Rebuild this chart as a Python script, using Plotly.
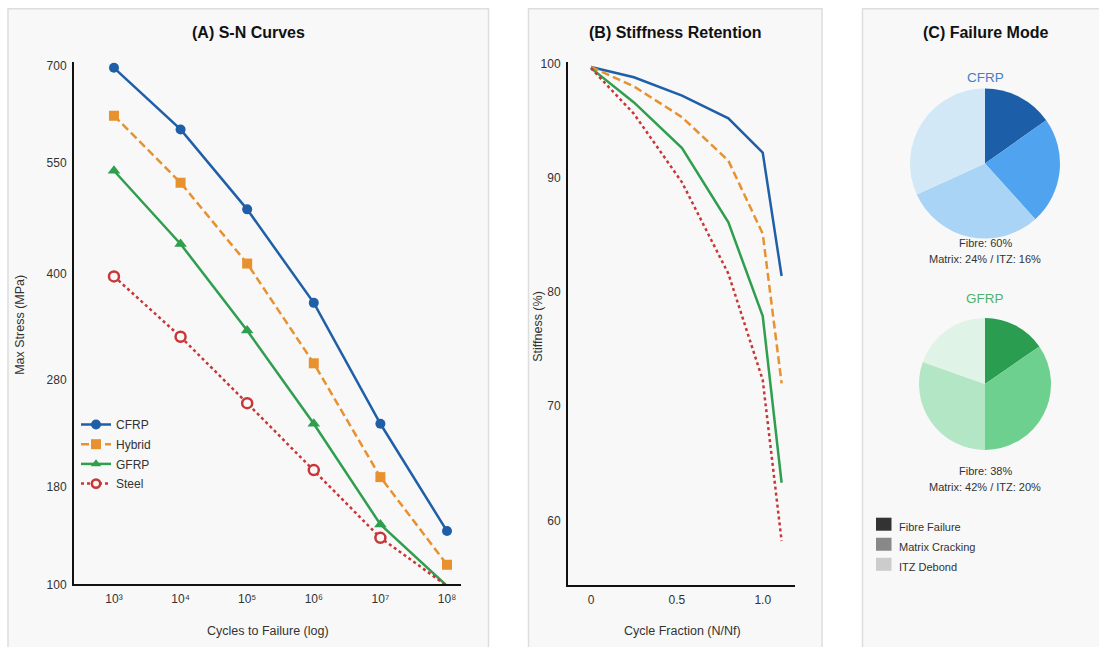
import numpy as np
import plotly.graph_objects as go

W, H = 1099, 647
# the photographed page maps page-y to picture-y as  y_pic = Y0 + YS * y_page
Y0, YS = 5.8, 0.978

# ---------------- data ----------------
cycles = [1e3, 1e4, 1e5, 1e6, 1e7, 1e8]
cycle_tick_text = ["10³", "10⁴", "10⁵", "10⁶", "10⁷", "10⁸"]
stress_ticks = [100, 180, 280, 400, 550, 700]
stress_floor = 108
stress_ceiling = 705

sn_cfrp = [696, 599, 484, 365, 236, 145]
sn_hybrid = [620, 521, 413, 297, 188, 121]
sn_gfrp = [538, 438, 333, 236, 150, 107]
sn_steel = [397, 326, 256, 194, 140, 107]

cycle_fraction = [0, 0.25, 0.53, 0.8, 1.0, 1.11]
stiff_cfrp = [99.7, 98.8, 97.2, 95.2, 92.2, 81.4]
stiff_hybrid = [99.7, 98.0, 95.3, 91.5, 85.1, 72.0]
stiff_gfrp = [99.6, 96.6, 92.6, 86.1, 77.9, 63.3]
stiff_steel = [99.6, 95.6, 89.6, 81.6, 72.3, 58.2]
frac_ticks = [0, 0.5, 1.0]
frac_tick_text = ["0", "0.5", "1.0"]
stiff_ticks = [60, 70, 80, 90, 100]

pie_labels = ["Fibre Failure", "Matrix Cracking", "ITZ Debond", "Other"]
pie_cfrp = [15.2, 23.1, 29.9, 31.8]
pie_gfrp = [15.4, 34.6, 30.4, 19.6]
cfrp_note = ["Fibre: 60%", "Matrix: 24% / ITZ: 16%"]
gfrp_note = ["Fibre: 38%", "Matrix: 42% / ITZ: 20%"]
mode_legend = ["Fibre Failure", "Matrix Cracking", "ITZ Debond"]

series_names = ["CFRP", "Hybrid", "GFRP", "Steel"]

# ---------------- styles ----------------
colors = {"CFRP": "#1f5fa8", "Hybrid": "#e8912f", "GFRP": "#2f9e4e", "Steel": "#c93636"}
dashes = {"CFRP": "solid", "Hybrid": "8px,4px", "GFRP": "solid", "Steel": "3px,3px"}
symbols = {"CFRP": "circle", "Hybrid": "square", "GFRP": "triangle-up", "Steel": "circle"}
msize = {"CFRP": 10, "Hybrid": 10, "GFRP": 11, "Steel": 10}
cfrp_pie_colors = ["#1c5ea8", "#4fa3ef", "#a9d4f5", "#d2e8f7"]
gfrp_pie_colors = ["#2a9d50", "#6dd08f", "#b3e6c4", "#dff3e6"]
mode_colors = ["#333333", "#888888", "#cccccc"]
BG = "#f8f8f8"
FONT = "Liberation Sans, Arial, sans-serif"


def px(x):
    return x / W


def py(y):
    y_page = (y - Y0) / YS
    return 1 - y_page / H


fig = go.Figure()

sn_data = dict(zip(series_names, [sn_cfrp, sn_hybrid, sn_gfrp, sn_steel]))
for name in series_names:
    vals = sn_data[name]
    sizes = [msize[name] if v > stress_floor else 0 for v in vals]
    if name == "Steel":
        marker = dict(symbol="circle", size=sizes, color=BG, opacity=1,
                      line=dict(color=colors[name], width=2.5))
    else:
        marker = dict(symbol=symbols[name], size=sizes, color=colors[name], opacity=1,
                      line=dict(width=0))
    fig.add_trace(go.Scatter(
        x=cycles, y=np.sqrt(vals), mode="lines+markers", name=name, legendgroup=name,
        line=dict(color=colors[name], width=2.5, dash=dashes[name]),
        marker=marker, xaxis="x", yaxis="y", cliponaxis=True,
        customdata=vals,
        hovertemplate="%{x:.0e} cycles: %{customdata} MPa<extra>" + name + "</extra>",
    ))

stiff_data = dict(zip(series_names, [stiff_cfrp, stiff_hybrid, stiff_gfrp, stiff_steel]))
for name in series_names:
    fig.add_trace(go.Scatter(
        x=cycle_fraction, y=stiff_data[name], mode="lines", name=name,
        line=dict(color=colors[name], width=2.5, dash=dashes[name]),
        xaxis="x2", yaxis="y2", showlegend=False,
    ))

fig.add_trace(go.Pie(
    labels=pie_labels, values=pie_cfrp, sort=False, direction="clockwise", rotation=0,
    marker=dict(colors=cfrp_pie_colors, line=dict(width=0)), textinfo="none",
    domain=dict(x=[px(910), px(1060)], y=[py(238), py(88)]), showlegend=False, name="CFRP",
))
fig.add_trace(go.Pie(
    labels=pie_labels, values=pie_gfrp, sort=False, direction="clockwise", rotation=0,
    marker=dict(colors=gfrp_pie_colors, line=dict(width=0)), textinfo="none",
    domain=dict(x=[px(919), px(1051)], y=[py(449), py(317)]), showlegend=False, name="GFRP",
))

shapes = []
for x0, x1 in [(8, 488.5), (528.5, 822), (862.5, 1120)]:
    shapes.append(dict(type="rect", xref="paper", yref="paper", x0=px(x0), x1=px(x1),
                       y0=-0.1, y1=py(8.5), fillcolor=BG, line=dict(color="#dddddd", width=1.5),
                       layer="below"))
for i, c in enumerate(mode_colors):
    yc = 523 + 20 * i
    shapes.append(dict(type="rect", xref="paper", yref="paper", x0=px(876), x1=px(891.5),
                       y0=py(yc + 6.5), y1=py(yc - 6.5), fillcolor=c, line=dict(width=0)))

ann = []


def text(x, y, s, size, color="#333", bold=False, angle=0, xanchor="center"):
    ann.append(dict(x=px(x), y=py(y), xref="paper", yref="paper", text=("<b>%s</b>" % s) if bold else s,
                    showarrow=False, xanchor=xanchor, yanchor="middle", textangle=angle,
                    font=dict(family=FONT, size=size, color=color)))


text(248, 32, "(A) S-N Curves", 16, "#111", bold=True)
text(675, 32, "(B) Stiffness Retention", 16, "#111", bold=True)
text(985, 32, "(C) Failure Mode", 16, "#111", bold=True)
text(268, 630, "Cycles to Failure (log)", 12.5)
text(20, 324, "Max Stress (MPa)", 12.5, angle=-90)
text(682, 630, "Cycle Fraction (N/Nf)", 12.5)
text(538, 326, "Stiffness (%)", 12.5, angle=-90)
text(985, 77, "CFRP", 13.5, "#3f7fc6")
text(985, 298, "GFRP", 13.5, "#52b06d")
text(985, 242, cfrp_note[0], 11)
text(985, 258, cfrp_note[1], 11)
text(985, 470, gfrp_note[0], 11)
text(985, 486, gfrp_note[1], 11)
for i, s in enumerate(mode_legend):
    text(897, 526 + 20 * i, s, 11, xanchor="left")

axis_common = dict(showline=True, linecolor="#111", linewidth=2, showgrid=False, zeroline=False,
                   ticks="", tickfont=dict(family=FONT, size=12, color="#333"))

fig.update_layout(
    width=W, height=H, margin=dict(l=0, r=0, t=0, b=0),
    paper_bgcolor="white", plot_bgcolor="rgba(0,0,0,0)",
    font=dict(family=FONT, color="#333"),
    xaxis=dict(domain=[px(74), px(461)], type="log", range=[2.4, 8.21], anchor="y",
               tickmode="array", tickvals=cycles, ticktext=cycle_tick_text,
               ticklabelstandoff=2, **axis_common),
    yaxis=dict(domain=[py(583), py(62)], range=[np.sqrt(stress_floor), np.sqrt(stress_ceiling)],
               anchor="x", tickmode="array",
               tickvals=list(np.sqrt(np.clip(stress_ticks, stress_floor, None))),
               ticktext=[str(v) for v in stress_ticks], ticklabelstandoff=3, **axis_common),
    xaxis2=dict(domain=[px(568), px(795)], range=[-0.134, 1.188], anchor="y2",
                tickmode="array", tickvals=frac_ticks, ticktext=frac_tick_text,
                ticklabelstandoff=2, **axis_common),
    yaxis2=dict(domain=[py(584), py(62)], range=[54.32, 100.11], anchor="x2",
                tickmode="array", tickvals=stiff_ticks, ticklabelstandoff=3, **axis_common),
    legend=dict(x=px(76), y=py(409), xanchor="left", yanchor="top", bgcolor="rgba(0,0,0,0)",
                font=dict(family=FONT, size=12, color="#333"), tracegroupgap=0.7),
    shapes=shapes, annotations=ann,
)

reset_page = ("document.documentElement.style.margin='0';document.body.style.margin='0';"
              "document.body.style.padding='0';document.documentElement.style.overflow='hidden';"
              "document.body.style.overflow='hidden';")

fig.write_html("out.html", post_script=reset_page, config={"displayModeBar": False})
